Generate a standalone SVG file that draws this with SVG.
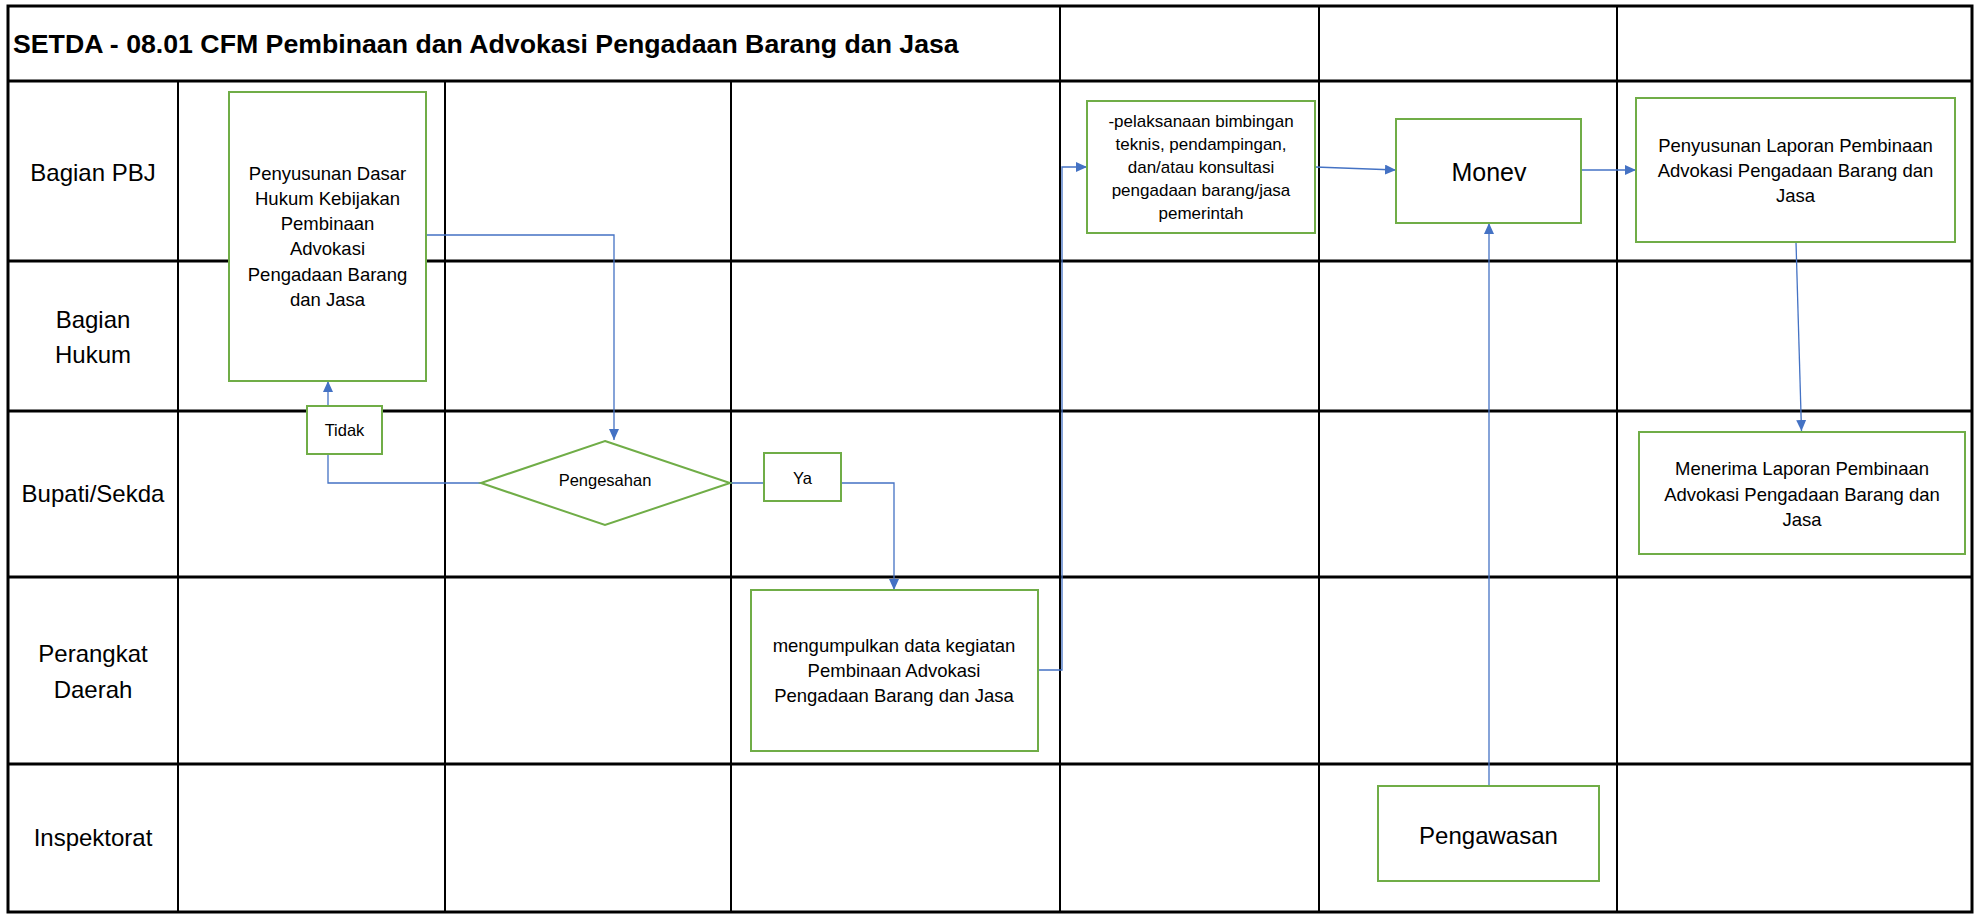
<svg xmlns="http://www.w3.org/2000/svg" width="1976" height="917" viewBox="0 0 1976 917">
<defs>
<style>
.grid-h{stroke:#000;stroke-width:3;fill:none}
.grid-v{stroke:#000;stroke-width:2;fill:none}
.node{fill:#fff;stroke:#70AD47;stroke-width:2}
.conn{fill:none;stroke:#4472C4;stroke-width:1.3}
.t{font-family:"Liberation Sans",Arial,sans-serif;fill:#000;text-anchor:middle}
.lane{font-size:24px}
.box{font-size:18.5px}
.small{font-size:16.5px}
.title{font-family:"Liberation Sans",Arial,sans-serif;font-weight:bold;font-size:26.7px;fill:#000}
</style>
<marker id="arr" markerUnits="userSpaceOnUse" markerWidth="12" markerHeight="10" refX="11" refY="5" orient="auto">
<path d="M0,0 L11,5 L0,10 z" fill="#4472C4"/>
</marker>
</defs>
<rect width="1976" height="917" fill="#fff"/>
<g id="grid">
<rect x="8" y="6" width="1964" height="906" class="grid-h"/>
<line x1="8" y1="81" x2="1972" y2="81" class="grid-h"/>
<line x1="8" y1="261" x2="1972" y2="261" class="grid-h"/>
<line x1="8" y1="411" x2="1972" y2="411" class="grid-h"/>
<line x1="8" y1="577" x2="1972" y2="577" class="grid-h"/>
<line x1="8" y1="764" x2="1972" y2="764" class="grid-h"/>
<line x1="178" y1="81" x2="178" y2="912" class="grid-v"/>
<line x1="445" y1="81" x2="445" y2="912" class="grid-v"/>
<line x1="731" y1="81" x2="731" y2="912" class="grid-v"/>
<line x1="1060" y1="6" x2="1060" y2="912" class="grid-v"/>
<line x1="1319" y1="6" x2="1319" y2="912" class="grid-v"/>
<line x1="1617" y1="6" x2="1617" y2="912" class="grid-v"/>
<text x="13" y="53" class="title">SETDA - 08.01 CFM Pembinaan dan Advokasi Pengadaan Barang dan Jasa</text>
</g>
<g id="lanes">
<text x="93" y="181" class="t lane">Bagian PBJ</text>
<text x="93" y="328" class="t lane">Bagian</text>
<text x="93" y="363" class="t lane">Hukum</text>
<text x="93" y="502" class="t lane">Bupati/Sekda</text>
<text x="93" y="662" class="t lane">Perangkat</text>
<text x="93" y="698" class="t lane">Daerah</text>
<text x="93" y="846" class="t lane">Inspektorat</text>
</g>
<g id="connectors">
<path d="M426,235 H614 V440" class="conn" marker-end="url(#arr)"/>
<path d="M481,483 H328 V381" class="conn" marker-end="url(#arr)"/>
<path d="M730,483 H894 V590" class="conn" marker-end="url(#arr)"/>
<path d="M1038,670 H1062 V167 H1087" class="conn" marker-end="url(#arr)"/>
<path d="M1315,167 L1396,170" class="conn" marker-end="url(#arr)"/>
<path d="M1581,170 H1636" class="conn" marker-end="url(#arr)"/>
<path d="M1796,242 L1801.5,431" class="conn" marker-end="url(#arr)"/>
<path d="M1489,786 V223" class="conn" marker-end="url(#arr)"/>
</g>
<g id="n-dasar-hukum">
<rect x="229" y="92" width="197" height="289" class="node"/>
<text class="t box" x="327.5"><tspan x="327.5" y="180">Penyusunan Dasar</tspan><tspan x="327.5" y="205">Hukum Kebijakan</tspan><tspan x="327.5" y="230">Pembinaan</tspan><tspan x="327.5" y="255">Advokasi</tspan><tspan x="327.5" y="281">Pengadaan Barang</tspan><tspan x="327.5" y="306">dan Jasa</tspan></text>
</g>
<g id="n-tidak">
<rect x="307" y="406" width="75" height="48" class="node"/>
<text class="t small" x="344.5" y="436">Tidak</text>
</g>
<g id="n-pengesahan">
<polygon points="605,441 730,483 605,525 481,483" class="node"/>
<text class="t small" x="605" y="486">Pengesahan</text>
</g>
<g id="n-ya">
<rect x="764" y="453" width="77" height="48" class="node"/>
<text class="t small" x="802.5" y="484">Ya</text>
</g>
<g id="n-mengumpulkan">
<rect x="751" y="590" width="287" height="161" class="node"/>
<text class="t box" x="894"><tspan x="894" y="652">mengumpulkan data kegiatan</tspan><tspan x="894" y="677">Pembinaan Advokasi</tspan><tspan x="894" y="702">Pengadaan Barang dan Jasa</tspan></text>
</g>
<g id="n-pelaksanaan">
<rect x="1087" y="101" width="228" height="132" class="node"/>
<text class="t" style="font-size:17px" x="1201"><tspan x="1201" y="127">-pelaksanaan bimbingan</tspan><tspan x="1201" y="150">teknis, pendampingan,</tspan><tspan x="1201" y="173">dan/atau konsultasi</tspan><tspan x="1201" y="196">pengadaan barang/jasa</tspan><tspan x="1201" y="219">pemerintah</tspan></text>
</g>
<g id="n-monev">
<rect x="1396" y="119" width="185" height="104" class="node"/>
<text class="t" style="font-size:25px" x="1489" y="181">Monev</text>
</g>
<g id="n-penyusunan-laporan">
<rect x="1636" y="98" width="319" height="144" class="node"/>
<text class="t box" x="1795.5"><tspan x="1795.5" y="152">Penyusunan Laporan Pembinaan</tspan><tspan x="1795.5" y="177">Advokasi Pengadaan Barang dan</tspan><tspan x="1795.5" y="202">Jasa</tspan></text>
</g>
<g id="n-menerima">
<rect x="1639" y="432" width="326" height="122" class="node"/>
<text class="t box" x="1802"><tspan x="1802" y="475">Menerima Laporan Pembinaan</tspan><tspan x="1802" y="501">Advokasi Pengadaan Barang dan</tspan><tspan x="1802" y="526">Jasa</tspan></text>
</g>
<g id="n-pengawasan">
<rect x="1378" y="786" width="221" height="95" class="node"/>
<text class="t" style="font-size:24px" x="1488.5" y="844">Pengawasan</text>
</g>
</svg>
